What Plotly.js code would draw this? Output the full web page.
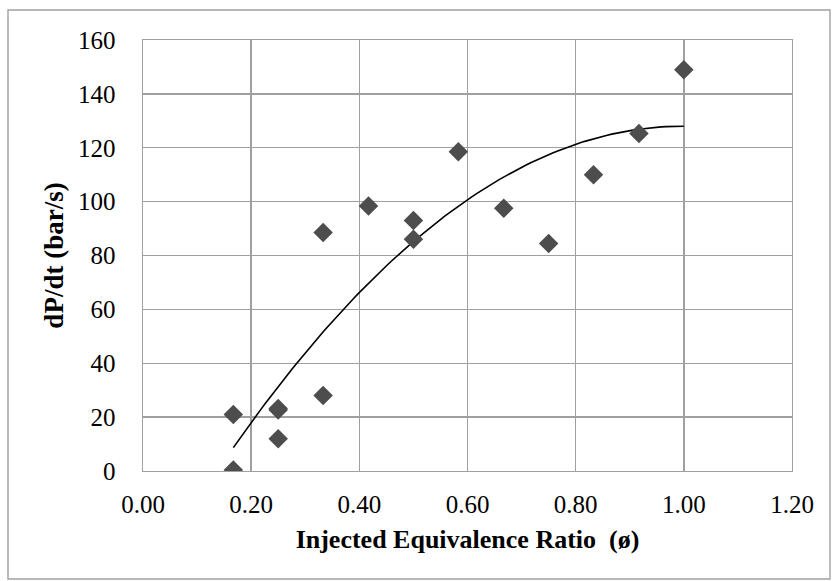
<!DOCTYPE html>
<html>
<head>
<meta charset="utf-8">
<script src="https://cdn.plot.ly/plotly-3.0.1.min.js"></script>
<style>html,body{margin:0;padding:0;background:#fff;}#chart{width:832px;height:581px;}</style>
</head>
<body>
<div id="chart"></div>
<script>
// Injected equivalence ratio (x) and dP/dt in bar/s (y)
var phi  = [0.167, 0.167, 0.25, 0.25, 0.25, 0.333, 0.333, 0.417, 0.5, 0.5, 0.583, 0.667, 0.75, 0.833, 0.917, 1.0];
var dpdt = [21.0, 0.4, 22.6, 23.2, 12.0, 28.0, 88.5, 98.4, 93.0, 86.0, 118.5, 97.5, 84.5, 110.0, 125.3, 149.0];

var xTickVals = [0, 0.2, 0.4, 0.6, 0.8, 1.0, 1.2];
var xTickText = ["0.00", "0.20", "0.40", "0.60", "0.80", "1.00", "1.20"];
var yTickVals = [0, 20, 40, 60, 80, 100, 120, 140, 160];
var yTickText = ["0", "20", "40", "60", "80", "100", "120", "140", "160"];

// Second-order polynomial least-squares trendline, computed from the data
function polyFit2(xs, ys) {
  var n = xs.length, S = [0,0,0,0,0], T = [0,0,0];
  for (var i = 0; i < n; i++) {
    var p = 1;
    for (var k = 0; k < 5; k++) { S[k] += p; if (k < 3) T[k] += p * ys[i]; p *= xs[i]; }
  }
  var A = [[S[0],S[1],S[2],T[0]],[S[1],S[2],S[3],T[1]],[S[2],S[3],S[4],T[2]]];
  for (var c = 0; c < 3; c++) {
    for (var r = c + 1; r < 3; r++) {
      var f = A[r][c] / A[c][c];
      for (var j = c; j < 4; j++) A[r][j] -= f * A[c][j];
    }
  }
  var coef = [0,0,0];
  for (var r2 = 2; r2 >= 0; r2--) {
    var s = A[r2][3];
    for (var j2 = r2 + 1; j2 < 3; j2++) s -= A[r2][j2] * coef[j2];
    coef[r2] = s / A[r2][r2];
  }
  return coef;
}
var coef = polyFit2(phi, dpdt);
var xmin = Math.min.apply(null, phi), xmax = Math.max.apply(null, phi);
var trendX = [], trendY = [];
for (var i = 0; i <= 100; i++) {
  var xv = xmin + (xmax - xmin) * i / 100;
  trendX.push(xv);
  trendY.push(coef[0] + coef[1] * xv + coef[2] * xv * xv);
}

var data = [
  {x: trendX, y: trendY, type: 'scatter', mode: 'lines',
   line: {color: '#000000', width: 1.6}, hoverinfo: 'skip', showlegend: false},
  {x: phi, y: dpdt, type: 'scatter', mode: 'markers',
   marker: {symbol: 'diamond', size: 15, color: '#4d4d4d', line: {width: 0}}, showlegend: false}
];

var gridCol = '#a0a0a0';
var layout = {
  width: 832, height: 581,
  margin: {l: 143, r: 40, t: 40, b: 110},
  paper_bgcolor: '#ffffff', plot_bgcolor: '#ffffff',
  font: {family: '"Liberation Serif", "Times New Roman", serif', size: 25, color: '#000000'},
  xaxis: {
    range: [0, 1.2], tickvals: xTickVals, ticktext: xTickText,
    showgrid: true, gridcolor: gridCol, gridwidth: 1.4,
    showline: true, linecolor: gridCol, linewidth: 1.4, mirror: true,
    zeroline: false, ticks: '', ticklabelstandoff: 11,
    tickfont: {size: 25},
    title: {text: '<b>Injected Equivalence Ratio  (ø)</b>', font: {size: 26}, standoff: 12}
  },
  yaxis: {
    range: [0, 160], tickvals: yTickVals, ticktext: yTickText,
    showgrid: true, gridcolor: gridCol, gridwidth: 1.4,
    showline: true, linecolor: gridCol, linewidth: 1.4, mirror: true,
    zeroline: false, ticks: '', ticklabelstandoff: 21,
    tickfont: {size: 25},
    title: {text: '<b>dP/dt (bar/s)</b>', font: {size: 27}, standoff: 6}
  },
  shapes: [{
    type: 'rect', xref: 'paper', yref: 'paper',
    x0: (8 - 143) / 649, x1: (830 - 143) / 649,
    y0: (471 - 579) / 431, y1: (471 - 10) / 431,
    line: {color: '#a0a0a0', width: 1.4}, layer: 'below'
  }]
};

Plotly.newPlot('chart', data, layout, {displayModeBar: false, staticPlot: true});
</script>
</body>
</html>
